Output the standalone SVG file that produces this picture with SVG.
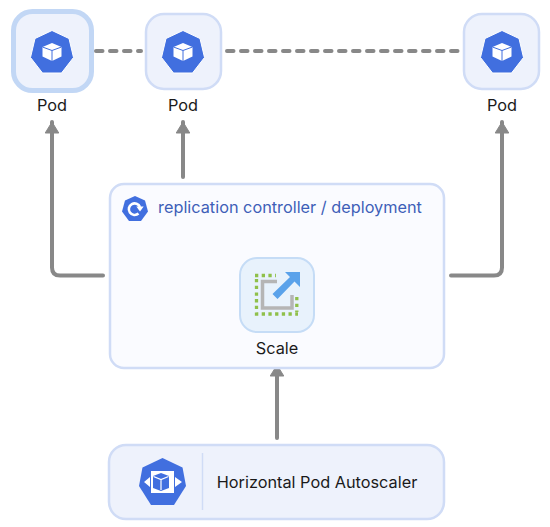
<svg xmlns="http://www.w3.org/2000/svg" width="550" height="527" viewBox="0 0 550 527">
<style>
text{font-family:Inter,"Liberation Sans",sans-serif;font-size:16.300px;fill:#1a1a1a;text-anchor:middle}
.box{fill:#eef2fc;stroke:#d0dcf6;stroke-width:2.500}
.hept{fill:#416fdf;stroke:#fff;stroke-width:1}
.conn{fill:none;stroke:#888;stroke-width:4;stroke-linecap:round}
.dash{fill:none;stroke:#888;stroke-width:4;stroke-linecap:round;stroke-dasharray:6.500 7.500}
</style>
<defs>
<marker id="arrow" markerUnits="userSpaceOnUse" markerWidth="16" markerHeight="16" refX="12.500" refY="8" orient="auto"><path d="M1.500 1.200L12.500 8L1.500 14.800Z" fill="#888" stroke="#888" stroke-linejoin="round"/></marker>
<g id="cube"><path d="M0-8.500L9.500-4.500V5L0 9.500L-9.500 5V-4.500Z" fill="#fff"/><path d="M-9.500-4.500L0-1V9.500M9.500-4.500L0-1" fill="none" stroke="#416fdf" stroke-width="1"/></g>
<path id="pod-hept" class="hept" d="M0-21.500L17-13.500L21.500 5.500L9.500 21L-9.500 21L-21.500 5.500L-17-13.500Z"/>
</defs>
<g id="connectors">
<path class="dash" d="M96 51H141"/>
<path class="dash" d="M227 51H459"/>
<path class="conn" marker-end="url(#arrow)" d="M103 275.500H60Q52 275.500 52 267.500V122"/>
<path class="conn" marker-end="url(#arrow)" d="M183 177V122"/>
<path class="conn" marker-end="url(#arrow)" d="M451 275.500H494Q502 275.500 502 267.500V122"/>
<path class="conn" marker-end="url(#arrow)" d="M277 438V365"/>
</g>
<g id="pod1"><rect x="13.500" y="11.500" width="78" height="79" rx="19" fill="#eef2fc" stroke="#c2d7f5" stroke-width="5"/><use href="#pod-hept" x="52" y="52"/><use href="#cube" x="52" y="51.500"/><text x="52" y="111">Pod</text></g>
<g id="pod2"><rect class="box" x="146" y="14" width="75" height="75" rx="18"/><use href="#pod-hept" x="183" y="52"/><use href="#cube" x="183" y="51.500"/><text x="183" y="111">Pod</text></g>
<g id="pod3"><rect class="box" x="464" y="14" width="75" height="75" rx="18"/><use href="#pod-hept" x="502" y="52"/><use href="#cube" x="502" y="51.500"/><text x="502" y="111">Pod</text></g>
<g id="controller"><rect x="110" y="184" width="334" height="184" rx="14" fill="#fafbff" stroke="#d0dcf6" stroke-width="2.500"/>
<path d="M135 196L145 200.500L148 211.500L141 221H129L122 211.500L125 200.500Z" fill="#416fdf"/>
<path d="M138.500 213.500A5.800 5.800 0 1 1 140 207" fill="none" stroke="#fff" stroke-width="2.600"/><path d="M136.300 206.500H143.700L140 211.500Z" fill="#fff"/>
<text x="290" y="213" style="fill:#3e5fb8">replication controller / deployment</text></g>
<g id="scale"><rect x="240" y="258" width="74" height="74" rx="17" fill="#e8f2fc" stroke="#c5dcf6" stroke-width="2"/>
<path d="M255 275.500H276M256.500 279V314H298M296.800 297V312" fill="none" stroke="#8fc04a" stroke-width="3.300" stroke-dasharray="3.300 3.400"/>
<path d="M277 281.500H262.500V308H292V295" fill="none" stroke="#b5b5b5" stroke-width="3.500"/>
<path d="M300 272V287L294.500 281.500L277.500 299L272.500 294L290 277L285 272Z" fill="#5aa2ea"/>
<text x="277" y="354">Scale</text></g>
<g id="hpa"><rect class="box" x="109" y="445" width="335" height="74" rx="17"/><path d="M162.500 458L182.500 467.500L186 486L174 505H151L139 486L142.500 467.500Z" fill="#416fdf"/>
<rect x="151" y="471" width="23" height="22" fill="#fff"/><path d="M161 473L169 476V488L161 491L153 488V476Z" fill="#416fdf"/><path d="M153.500 476.500L161 479.500L168.500 476.500M161 479.500V490" fill="none" stroke="#fff" stroke-width="1.200"/>
<path d="M150 477L144 482L150 487ZM175 477L182 482L175 487Z" fill="#fff"/>
<path d="M202.500 453V510" stroke="#d0dcf6" stroke-width="1.500"/><text x="317" y="488">Horizontal Pod Autoscaler</text></g>
</svg>
